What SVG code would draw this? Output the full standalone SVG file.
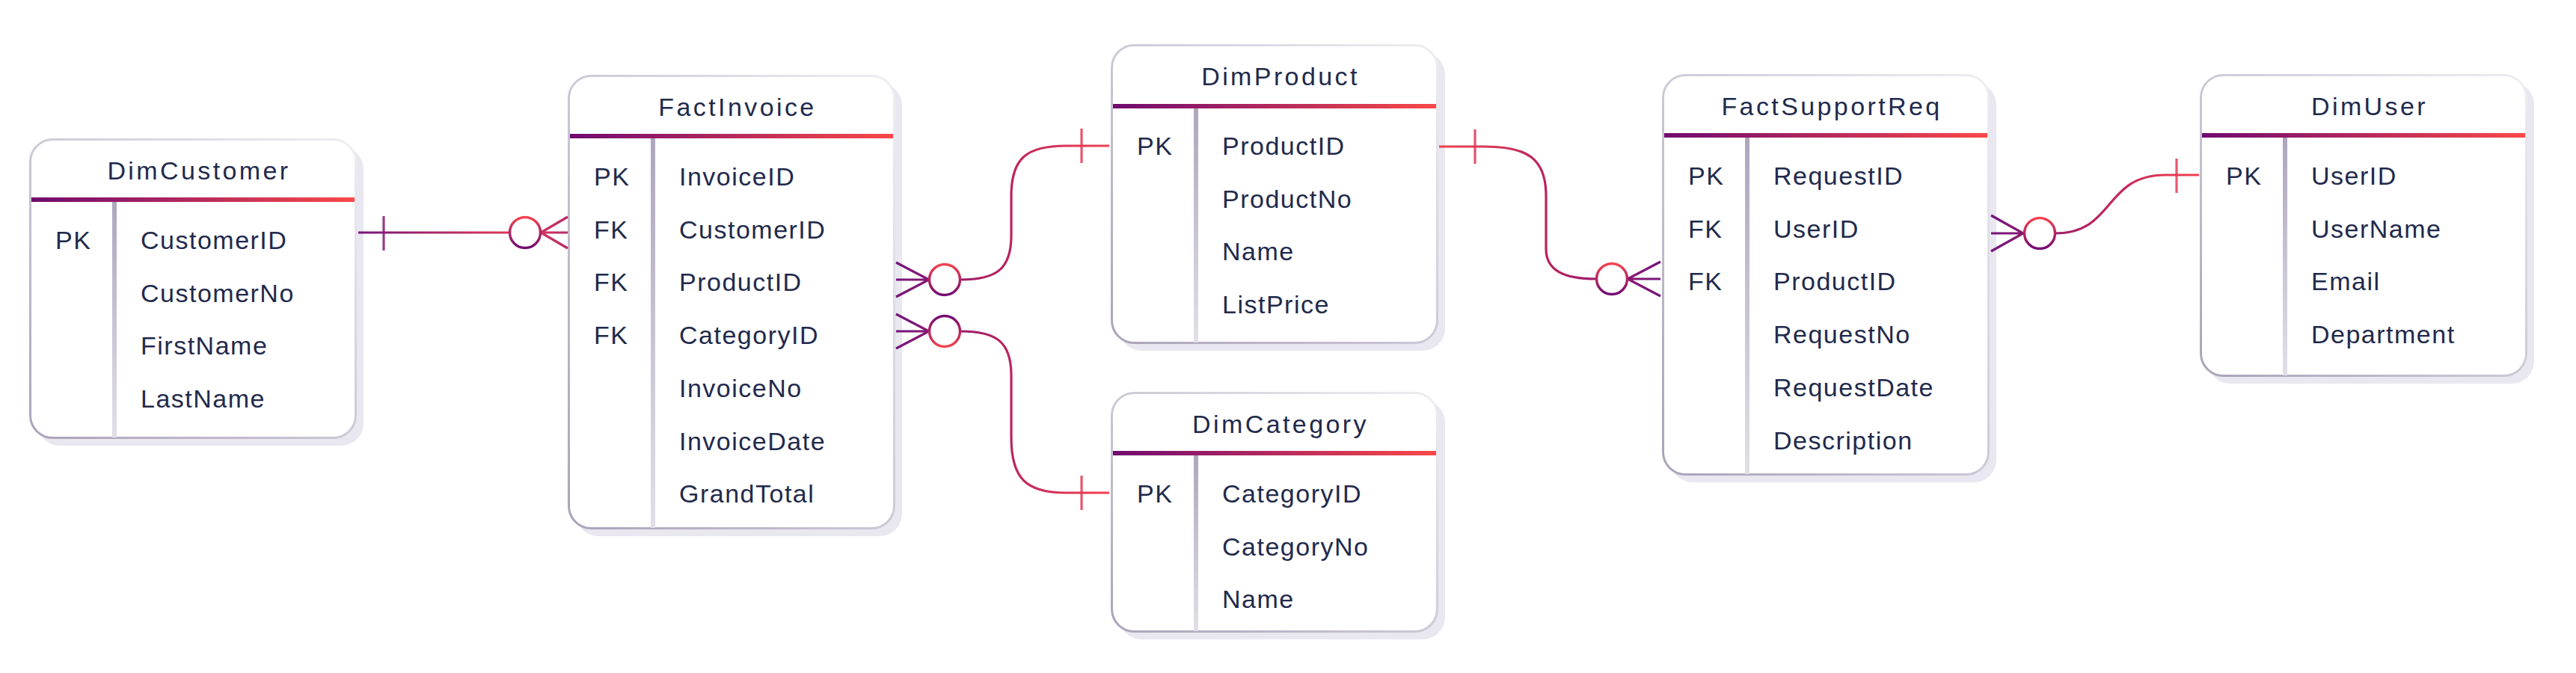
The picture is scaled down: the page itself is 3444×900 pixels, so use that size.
<svg xmlns="http://www.w3.org/2000/svg" width="3444" height="900" viewBox="0 0 3444 900">
<defs>
<linearGradient id="hdrG" x1="0" y1="0" x2="1" y2="0"><stop offset="0" stop-color="#700a70"/><stop offset="1" stop-color="#fa4848"/></linearGradient>
<linearGradient id="sepG" x1="0" y1="0" x2="0" y2="1"><stop offset="0" stop-color="#aea6bd"/><stop offset="1" stop-color="#e2dfe8"/></linearGradient>
<linearGradient id="boxG" x1="1" y1="0" x2="0" y2="1"><stop offset="0" stop-color="#efeef3"/><stop offset="1" stop-color="#aba3ba"/></linearGradient>
<linearGradient id="cRP" x1="0" y1="0" x2="0" y2="1"><stop offset="0" stop-color="#f4434f"/><stop offset="1" stop-color="#720a72"/></linearGradient>
<linearGradient id="cPR" x1="0" y1="0" x2="0" y2="1"><stop offset="0" stop-color="#720a72"/><stop offset="1" stop-color="#f4434f"/></linearGradient>
<linearGradient id="g1" gradientUnits="userSpaceOnUse" x1="479" y1="0" x2="759" y2="0"><stop offset="0" stop-color="#74157a"/><stop offset="0.75" stop-color="#e23a54"/><stop offset="1" stop-color="#b82a68"/></linearGradient>
<linearGradient id="g2" gradientUnits="userSpaceOnUse" x1="1198" y1="0" x2="1483" y2="0"><stop offset="0" stop-color="#74157a"/><stop offset="0.5" stop-color="#b72260"/><stop offset="1" stop-color="#f2414f"/></linearGradient>
<linearGradient id="g4" gradientUnits="userSpaceOnUse" x1="1924" y1="0" x2="2220" y2="0"><stop offset="0" stop-color="#f2414f"/><stop offset="0.5" stop-color="#b72260"/><stop offset="1" stop-color="#74157a"/></linearGradient>
<linearGradient id="g5" gradientUnits="userSpaceOnUse" x1="2662" y1="0" x2="2940" y2="0"><stop offset="0" stop-color="#74157a"/><stop offset="0.5" stop-color="#b72260"/><stop offset="1" stop-color="#f2414f"/></linearGradient>
</defs>
<style>
.shadow{fill:#e9e7ef}
.box{fill:#ffffff;stroke:url(#boxG);stroke-width:3}
.hdr{fill:url(#hdrG)}
.sep{fill:url(#sepG)}
.title{font-family:"Liberation Sans",Arial,sans-serif;font-size:34px;letter-spacing:3.4px;fill:#222a4c;text-anchor:middle}
.key,.fld{font-family:"Liberation Sans",Arial,sans-serif;font-size:34px;letter-spacing:1.5px;fill:#222a4c}
.cn{fill:none;stroke-width:3.2;stroke-linecap:butt}
.bar{stroke-width:3.2;opacity:0.85}
.circ{fill:#ffffff;stroke-width:3.4}
</style>
<rect width="3444" height="900" fill="#ffffff"/>

<g id="DimCustomer" transform="translate(39,185)">
<rect class="shadow" x="11" y="11" width="436" height="400" rx="30"/>
<rect class="box" x="1.5" y="1.5" width="435" height="399" rx="30"/>
<rect class="hdr" x="3" y="79" width="432" height="6"/>
<rect class="sep" x="111" y="85" width="6" height="315"/>
<text class="title" x="227" y="55">DimCustomer</text>
<text class="key" x="35" y="148">PK</text>
<text class="fld" x="149" y="148">CustomerID</text>
<text class="fld" x="149" y="218.7">CustomerNo</text>
<text class="fld" x="149" y="289.4">FirstName</text>
<text class="fld" x="149" y="360.1">LastName</text>
</g>

<g id="FactInvoice" transform="translate(759,100)">
<rect class="shadow" x="11" y="11" width="436" height="606" rx="30"/>
<rect class="box" x="1.5" y="1.5" width="435" height="605" rx="30"/>
<rect class="hdr" x="3" y="79" width="432" height="6"/>
<rect class="sep" x="111" y="85" width="6" height="521"/>
<text class="title" x="227" y="55">FactInvoice</text>
<text class="key" x="35" y="148">PK</text>
<text class="key" x="35" y="218.7">FK</text>
<text class="key" x="35" y="289.4">FK</text>
<text class="key" x="35" y="360.1">FK</text>
<text class="fld" x="149" y="148">InvoiceID</text>
<text class="fld" x="149" y="218.7">CustomerID</text>
<text class="fld" x="149" y="289.4">ProductID</text>
<text class="fld" x="149" y="360.1">CategoryID</text>
<text class="fld" x="149" y="430.8">InvoiceNo</text>
<text class="fld" x="149" y="501.5">InvoiceDate</text>
<text class="fld" x="149" y="572.2">GrandTotal</text>
</g>

<g id="DimProduct" transform="translate(1485,59)">
<rect class="shadow" x="11" y="11" width="436" height="399" rx="30"/>
<rect class="box" x="1.5" y="1.5" width="435" height="398" rx="30"/>
<rect class="hdr" x="3" y="80" width="432" height="6"/>
<rect class="sep" x="111" y="86" width="6" height="313"/>
<text class="title" x="227" y="55">DimProduct</text>
<text class="key" x="35" y="148">PK</text>
<text class="fld" x="149" y="148">ProductID</text>
<text class="fld" x="149" y="218.7">ProductNo</text>
<text class="fld" x="149" y="289.4">Name</text>
<text class="fld" x="149" y="360.1">ListPrice</text>
</g>

<g id="DimCategory" transform="translate(1485,524)">
<rect class="shadow" x="11" y="11" width="436" height="320" rx="30"/>
<rect class="box" x="1.5" y="1.5" width="435" height="319" rx="30"/>
<rect class="hdr" x="3" y="79" width="432" height="6"/>
<rect class="sep" x="111" y="85" width="6" height="235"/>
<text class="title" x="227" y="55">DimCategory</text>
<text class="key" x="35" y="148">PK</text>
<text class="fld" x="149" y="148">CategoryID</text>
<text class="fld" x="149" y="218.7">CategoryNo</text>
<text class="fld" x="149" y="289.4">Name</text>
</g>

<g id="FactSupportReq" transform="translate(2222,99)">
<rect class="shadow" x="11" y="11" width="436" height="535" rx="30"/>
<rect class="box" x="1.5" y="1.5" width="435" height="534" rx="30"/>
<rect class="hdr" x="3" y="79" width="432" height="6"/>
<rect class="sep" x="111" y="85" width="6" height="450"/>
<text class="title" x="227" y="55">FactSupportReq</text>
<text class="key" x="35" y="148">PK</text>
<text class="key" x="35" y="218.7">FK</text>
<text class="key" x="35" y="289.4">FK</text>
<text class="fld" x="149" y="148">RequestID</text>
<text class="fld" x="149" y="218.7">UserID</text>
<text class="fld" x="149" y="289.4">ProductID</text>
<text class="fld" x="149" y="360.1">RequestNo</text>
<text class="fld" x="149" y="430.8">RequestDate</text>
<text class="fld" x="149" y="501.5">Description</text>
</g>

<g id="DimUser" transform="translate(2941,99)">
<rect class="shadow" x="11" y="11" width="436" height="403" rx="30"/>
<rect class="box" x="1.5" y="1.5" width="435" height="402" rx="30"/>
<rect class="hdr" x="3" y="79" width="432" height="6"/>
<rect class="sep" x="111" y="85" width="6" height="318"/>
<text class="title" x="227" y="55">DimUser</text>
<text class="key" x="35" y="148">PK</text>
<text class="fld" x="149" y="148">UserID</text>
<text class="fld" x="149" y="218.7">UserName</text>
<text class="fld" x="149" y="289.4">Email</text>
<text class="fld" x="149" y="360.1">Department</text>
</g>

<g id="connectors">
<g id="c-customer-invoice" stroke="url(#g1)">
<path class="cn" d="M479 311 H681"/>
<line class="bar" x1="513" y1="289" x2="513" y2="335"/>
<path class="cn" d="M759 290 L723 311 L759 332 M723 311 H759"/>
<circle class="circ" cx="702" cy="311" r="20.5" stroke="url(#cRP)"/>
</g>
<g id="c-invoice-product" stroke="url(#g2)">
<path class="cn" d="M1198 351 L1242 374 L1198 397 M1198 374 H1242"/>
<path class="cn" d="M1284 374 C1332 374 1352 360 1352 315 L1352 262 C1352 212 1372 195 1425 195 L1483 195"/>
<line class="bar" x1="1446" y1="172" x2="1446" y2="218"/>
<circle class="circ" cx="1263" cy="374" r="20.5" stroke="url(#cRP)"/>
</g>
<g id="c-invoice-category" stroke="url(#g2)">
<path class="cn" d="M1198 420 L1242 443 L1198 466 M1198 443 H1242"/>
<path class="cn" d="M1284 443 C1332 443 1352 457 1352 502 L1352 585 C1352 640 1372 659 1425 659 L1483 659"/>
<line class="bar" x1="1446" y1="636" x2="1446" y2="682"/>
<circle class="circ" cx="1263" cy="443" r="20.5" stroke="url(#cPR)"/>
</g>
<g id="c-product-support" stroke="url(#g4)">
<path class="cn" d="M1924 196 L1985 196 C2042 196 2067 212 2067 262 L2067 333 C2067 360 2088 373 2134 373"/>
<line class="bar" x1="1972" y1="173" x2="1972" y2="219"/>
<path class="cn" d="M2220 350 L2176 373 L2220 396 M2176 373 H2220"/>
<circle class="circ" cx="2155" cy="373" r="20.5" stroke="url(#cRP)"/>
</g>
<g id="c-support-user" stroke="url(#g5)">
<path class="cn" d="M2662 288 L2705 312 L2662 336 M2662 312 H2705"/>
<path class="cn" d="M2748 312 C2828 312 2812 234 2895 234 L2940 234"/>
<line class="bar" x1="2910" y1="212" x2="2910" y2="258"/>
<circle class="circ" cx="2727" cy="312" r="20.5" stroke="url(#cRP)"/>
</g>
</g>
</svg>
